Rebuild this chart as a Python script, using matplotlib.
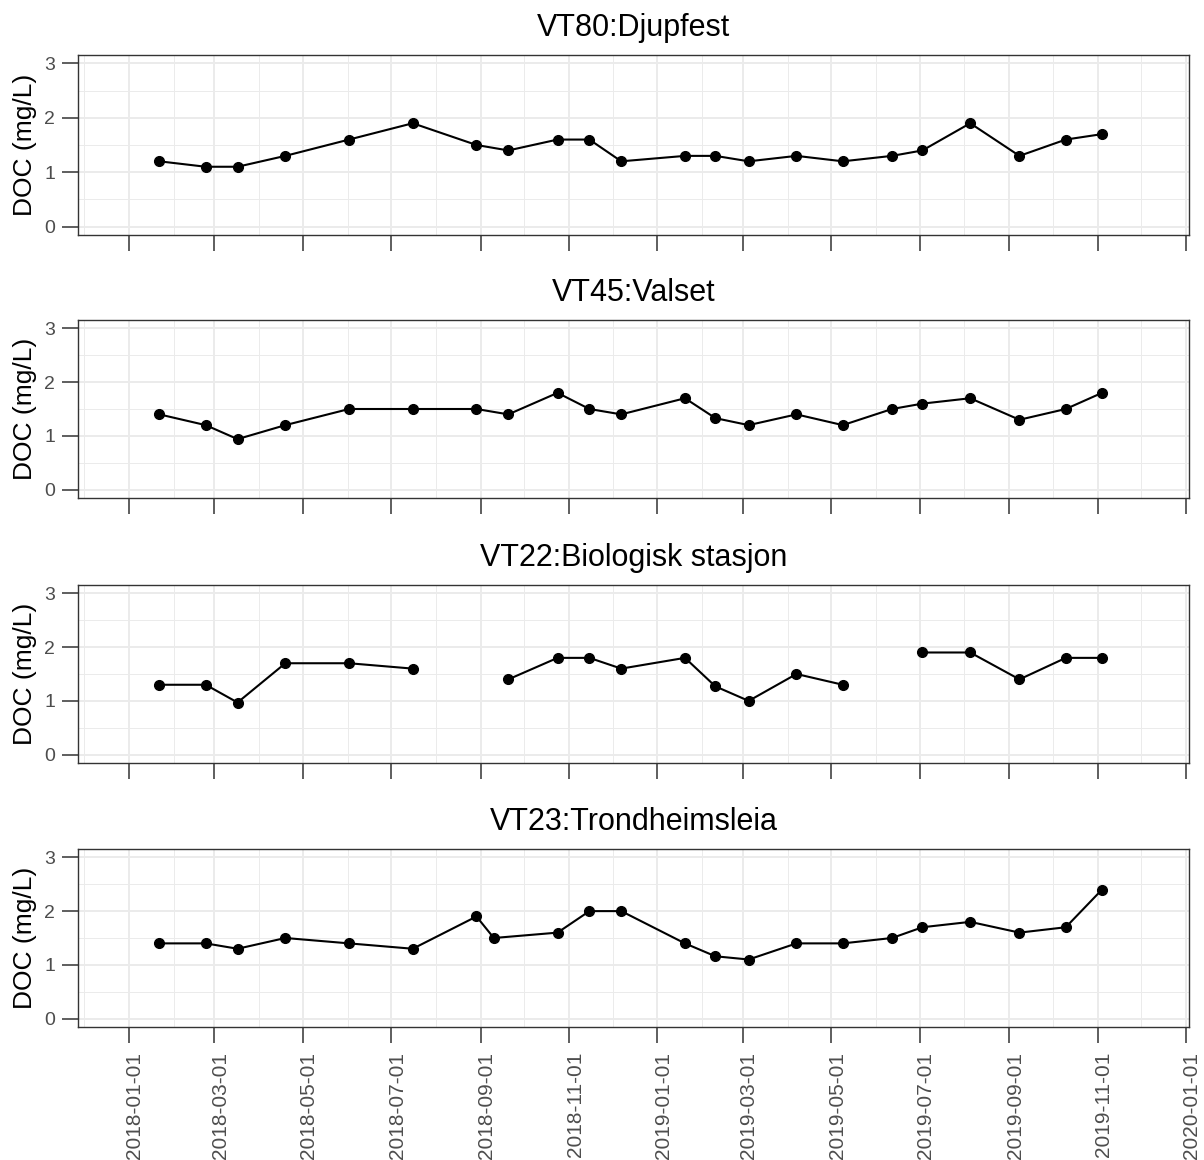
import numpy as np
import matplotlib
matplotlib.use("Agg")
import matplotlib.pyplot as plt
import matplotlib.dates as mdates
import matplotlib.transforms as mtransforms
import pandas as pd

plt.rcParams['font.family'] = ['Liberation Sans', 'DejaVu Sans']

# sampling dates
datoer = ["2018-01-22", "2018-02-23", "2018-03-17", "2018-04-19", "2018-06-02",
          "2018-07-16", "2018-08-29", "2018-09-20", "2018-10-24", "2018-11-15",
          "2018-12-07", "2019-01-20", "2019-02-10", "2019-03-05", "2019-04-07",
          "2019-05-09", "2019-06-12", "2019-07-03", "2019-08-05", "2019-09-08",
          "2019-10-10", "2019-11-04"]
datoer_vt23 = datoer[:7] + ["2018-09-10"] + datoer[8:]

stasjoner = ["VT80:Djupfest", "VT45:Valset", "VT22:Biologisk stasjon", "VT23:Trondheimsleia"]

vt80 = [1.2, 1.1, 1.1, 1.3, 1.6, 1.9, 1.5, 1.4, 1.6, 1.6, 1.2,
        1.3, 1.3, 1.2, 1.3, 1.2, 1.3, 1.4, 1.9, 1.3, 1.6, 1.7]
vt45 = [1.4, 1.2, 0.94, 1.2, 1.5, 1.5, 1.5, 1.4, 1.8, 1.5, 1.4,
        1.7, 1.33, 1.2, 1.4, 1.2, 1.5, 1.6, 1.7, 1.3, 1.5, 1.8]
vt22 = [1.3, 1.3, 0.97, 1.7, 1.7, 1.6, np.nan, 1.4, 1.8, 1.8, 1.6,
        1.8, 1.27, 1.0, 1.5, 1.3, np.nan, 1.9, 1.9, 1.4, 1.8, 1.8]
vt23 = [1.4, 1.4, 1.3, 1.5, 1.4, 1.3, 1.9, 1.5, 1.6, 2.0, 2.0,
        1.4, 1.16, 1.1, 1.4, 1.4, 1.5, 1.7, 1.8, 1.6, 1.7, 2.4]

serier = [(datoer, vt80), (datoer, vt45), (datoer, vt22), (datoer_vt23, vt23)]

W, H = 1204, 1160
fig = plt.figure(figsize=(W / 100, H / 100), dpi=100)

# panel positions in pixels (top, bottom)
paneler = [(55, 235), (320, 498), (585, 763), (849, 1027)]
venstre, hoyre = 78, 1189

start = mdates.date2num(pd.Timestamp("2018-01-01"))
xlim = (start - 35.2, start + 732.1)

for i, ((d, v), (top, bot)) in enumerate(zip(serier, paneler)):
    ax = fig.add_axes([venstre / W, 1 - bot / H, (hoyre - venstre) / W, (bot - top) / H])
    x = pd.to_datetime(d)
    ax.plot(x, v, color='black', lw=1.5, marker='o', ms=7, zorder=3)

    ax.set_xlim(xlim)
    ax.set_ylim(-0.155, 3.155)
    ax.set_yticks([0, 1, 2, 3])
    ax.set_yticks([0.5, 1.5, 2.5], minor=True)
    ax.xaxis.set_major_locator(mdates.MonthLocator(bymonth=[1, 3, 5, 7, 9, 11]))
    ax.xaxis.set_minor_locator(mdates.MonthLocator())
    ax.xaxis.set_major_formatter(mdates.DateFormatter('%Y-%m-%d'))

    ax.grid(which='major', color='#EBEBEB', lw=1.4, zorder=0)
    ax.grid(which='minor', color='#EBEBEB', lw=0.7, zorder=0)
    ax.set_axisbelow(True)
    for s in ax.spines.values():
        s.set_color('#333333')
        s.set_linewidth(1.0)

    ax.tick_params(which='major', length=11.5, width=1.1, color='#333333',
                   labelcolor='#4D4D4D')
    ax.tick_params(axis='y', labelsize=14, pad=5)
    ax.tick_params(axis='x', labelsize=15, pad=6.5)
    ax.tick_params(which='minor', length=0)
    if i < 3:
        ax.tick_params(axis='x', labelbottom=False)
    else:
        # shift the rotated labels a little right, as in the original
        skift = mtransforms.ScaledTranslation(6 / 100, 0, fig.dpi_scale_trans)
        for lab in ax.get_xticklabels():
            lab.set_rotation(90)
            lab.set_ha('center')
            lab.set_va('top')
            lab.set_transform(lab.get_transform() + skift)

    ax.set_ylabel('DOC (mg/L)', fontsize=19, color='black')
    ax.yaxis.set_label_coords(-0.0365, 0.5)
    ax.set_title(stasjoner[i], fontsize=22, pad=13.5)

fig.savefig('out.png', dpi=100)
